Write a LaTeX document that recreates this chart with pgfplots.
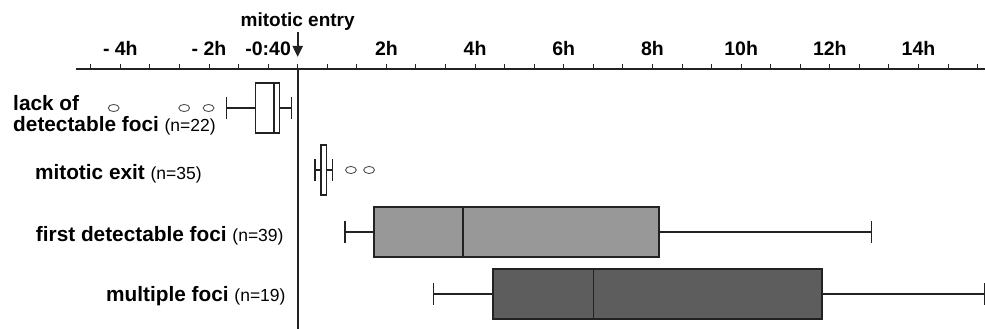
\documentclass[border=0pt]{standalone}
\usepackage{fontspec}
\setmainfont{Liberation Sans}
\usepackage{pgfplots}
\pgfplotsset{compat=1.18}
\usepgfplotslibrary{statistics}
\usetikzlibrary{arrows.meta}

\definecolor{boxlight}{HTML}{989898}
\definecolor{boxdark}{HTML}{5D5D5D}
\definecolor{ink}{HTML}{222222}

\begin{document}
\begin{tikzpicture}
\begin{axis}[
  scale only axis, width=909bp, height=260bp,
  xmin=-5, xmax=15.5, ymin=0.435, ymax=4.629,
  axis x line*=top, axis y line=none,
  clip=false,
  axis line style={line width=1.5bp, ink},
  xtick={-4,-2,-0.666667,2,4,6,8,10,12,14},
  xticklabels={- 4h,- 2h,-0:40,2h,4h,6h,8h,10h,12h,14h},
  minor xtick={-4.666667,-3.333333,-2.666667,-1.333333,0,0.666667,1.333333,2.666667,3.333333,4.666667,5.333333,6.666667,7.333333,8.666667,9.333333,10.666667,11.333333,12.666667,13.333333,14.666667,15.333333},
  tick align=outside,
  major tick length=5bp, minor tick length=5bp,
  every tick/.style={line width=1bp, ink},
  xticklabel style={font=\bfseries\fontsize{19.5bp}{21bp}\selectfont, anchor=base, inner sep=0pt, yshift=8bp},
  ytick=\empty,
  boxplot/draw direction=x,
]
% lack of detectable foci
\addplot[boxplot prepared={lower whisker=-1.61, lower quartile=-0.95, median=-0.53, upper quartile=-0.41, upper whisker=-0.135, draw position=4, box extend=0.806, whisker extend=0.355}, draw=ink, line width=1.5bp, fill=white] coordinates {};
% mitotic exit
\addplot[boxplot prepared={lower whisker=0.39, lower quartile=0.52, median=0.53, upper quartile=0.65, upper whisker=0.79, draw position=3, box extend=0.806, whisker extend=0.355}, draw=ink, line width=1.5bp, fill=white] coordinates {};
% first detectable foci
\addplot[boxplot prepared={lower whisker=1.07, lower quartile=1.72, median=3.73, upper quartile=8.15, upper whisker=12.94, draw position=2, box extend=0.806, whisker extend=0.355}, draw=ink, line width=1.5bp, fill=boxlight] coordinates {};
% multiple foci
\addplot[boxplot prepared={lower whisker=3.06, lower quartile=4.40, median=6.67, upper quartile=11.82, upper whisker=15.5, draw position=1, box extend=0.806, whisker extend=0.355}, draw=ink, line width=1.5bp, fill=boxdark] coordinates {};
% outliers
\addplot[only marks, mark=o, mark size=5.4bp, mark options={yscale=0.66, draw=ink!80, line width=0.9bp, fill=none}] coordinates {(-4.15,4) (-2.56,4) (-2.01,4) (1.20,3) (1.61,3)};

\draw[line width=1.8bp, ink] (axis cs:0,0.435) -- (axis cs:0,4.629);
\draw[line width=2.2bp, ink, -{Triangle[width=10bp,length=11bp]}] (axis cs:0,5.226) -- (axis cs:0,4.823);
\node[font=\bfseries\fontsize{19bp}{21bp}\selectfont, anchor=center, inner sep=0pt] at (axis cs:0,5.40) {mitotic entry};

\node[anchor=base west, inner sep=0pt, font=\bfseries\fontsize{20.8bp}{22bp}\selectfont] at (axis cs:-6.42,3.956) {lack of};
\node[anchor=base west, inner sep=0pt, font=\bfseries\fontsize{20.8bp}{22bp}\selectfont] at (axis cs:-6.42,3.618) {detectable foci {\mdseries\fontsize{17.5bp}{20bp}\selectfont (n=22)}};
\node[anchor=base east, inner sep=0pt, font=\bfseries\fontsize{20.8bp}{22bp}\selectfont] at (axis cs:-2.16,2.850) {mitotic exit {\mdseries\fontsize{17.5bp}{20bp}\selectfont (n=35)}};
\node[anchor=base east, inner sep=0pt, font=\bfseries\fontsize{20.8bp}{22bp}\selectfont] at (axis cs:-0.315,1.844) {first detectable foci {\mdseries\fontsize{17.5bp}{20bp}\selectfont (n=39)}};
\node[anchor=base east, inner sep=0pt, font=\bfseries\fontsize{20.8bp}{22bp}\selectfont] at (axis cs:-0.27,0.876) {multiple foci {\mdseries\fontsize{17.5bp}{20bp}\selectfont (n=19)}};
\end{axis}
\pgfresetboundingbox
\path ([xshift=-76bp,yshift=69bp]current axis.north west) rectangle (current axis.south east);
\end{tikzpicture}
\end{document}
